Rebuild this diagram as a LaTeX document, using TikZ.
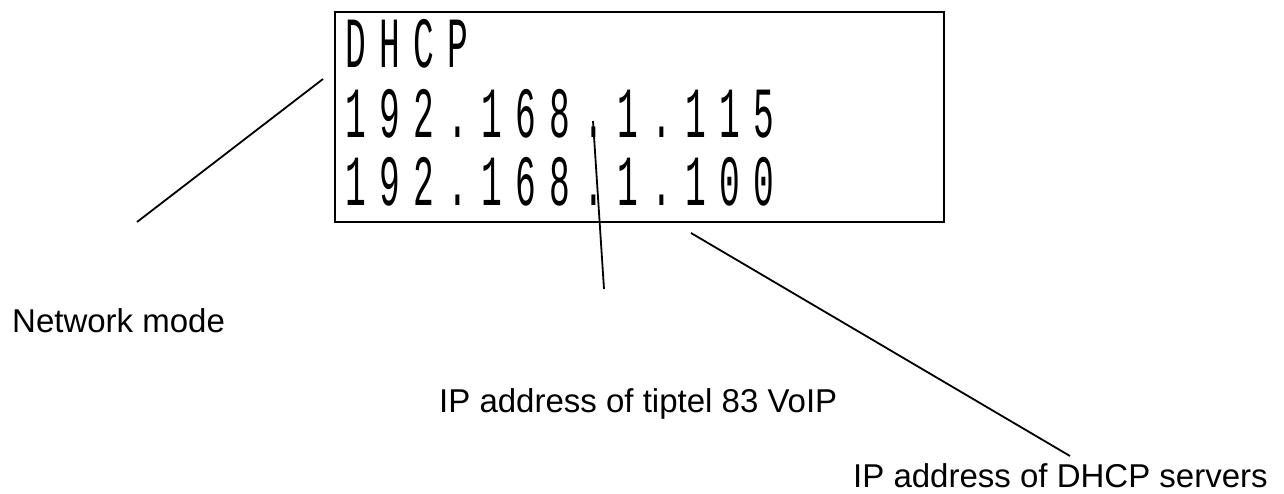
\documentclass[tikz,border=0pt]{standalone}
\usepackage{fontspec}
\setmainfont{Liberation Sans}
\newfontfamily\lcdfont[FakeStretch=0.48]{Liberation Mono}
\makeatletter
\def\lcd#1{\lcd@i#1\relax}
\def\lcd@i#1{\ifx#1\relax\else\makebox[34pt]{#1}\expandafter\lcd@i\fi}
\makeatother
\begin{document}
\begin{tikzpicture}[x=1pt,y=-1pt,
  lcdtext/.style={anchor=base west, inner sep=0pt, font=\lcdfont\fontsize{72}{72}\selectfont},
  caption/.style={anchor=base west, inner sep=0pt, font=\fontsize{33}{33}\selectfont},
  leader/.style={line width=1.8pt},
  lcdframe/.style={draw, line width=2.2pt, anchor=north west, inner sep=0pt, minimum width=609pt, minimum height=210pt}]
\useasboundingbox (0,0) rectangle (1284,493);
\node[lcdframe] (lcd) at (334,11) {};
\node[lcdtext] (l1) at (339,67) {\lcd{DHCP}};
\node[lcdtext] (l2) at (339,137) {\lcd{192.168.1.115}};
\node[lcdtext] (l3) at (339,205) {\lcd{192.168.1.100}};
\node[caption] (nm) at (12,332) {Network mode};
\node[caption] (ip) at (439,412) {IP address of tiptel 83 VoIP};
\node[caption] (ds) at (853,487) {IP address of DHCP servers};
\coordinate (nmA) at (323,79);
\coordinate (nmB) at (137,222);
\coordinate (ipA) at (593,121);
\coordinate (ipB) at (604,289);
\coordinate (dsA) at (691,233);
\coordinate (dsB) at (1070,456);
\draw[leader] (nmA) -- (nmB);
\draw[leader] (ipA) -- (ipB);
\draw[leader] (dsA) -- (dsB);
\end{tikzpicture}
\end{document}
